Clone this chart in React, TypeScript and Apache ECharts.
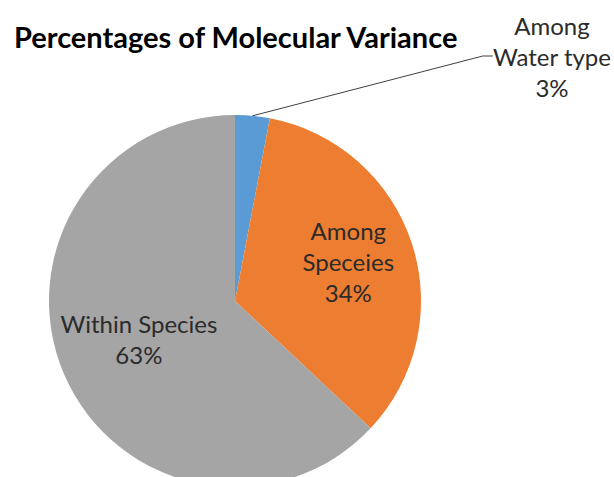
import React, { useEffect, useRef } from "react";
import * as echarts from "echarts";

const categories = ["Among\nWater type", "Among\nSpeceies", "Within Species"];
const values = [3, 34, 63];
const colors = ["#5B9BD5", "#ED7D31", "#A5A5A5"];
const titleText = "Percentages of Molecular Variance";

export default function App() {
  const ref = useRef<HTMLDivElement>(null);
  useEffect(() => {
    document.body.style.margin = "0";
    const chart = echarts.init(ref.current!, null, { renderer: "svg" });
    const font = "Lato, 'Noto Sans', sans-serif";
    chart.setOption({
      animation: false,
      backgroundColor: "#ffffff",
      title: {
        text: titleText,
        left: 9,
        top: 17,
        textStyle: { fontFamily: font, fontSize: 29, fontWeight: "bold", color: "#000000" },
      },
      series: [
        {
          type: "pie",
          center: [235, 301],
          radius: 186,
          startAngle: 90,
          clockwise: true,
          data: categories.map((c, i) => ({
            name: c,
            value: values[i],
            itemStyle: { color: colors[i] },
            label: i === 0 ? { position: "outside" } : { position: "inside" },
            labelLine: { show: i === 0 },
          })),
          label: {
            show: true,
            fontFamily: font,
            fontSize: 24,
            lineHeight: 31,
            color: "#2b2b2b",
            align: "center",
            formatter: (p: any) => `${p.name}\n${Math.round(p.percent)}%`,
          },
          labelLine: {
            show: true,
            length: 20,
            length2: 10,
            lineStyle: { color: "#404040", width: 1 },
          },
          labelLayout: (p: any) => {
            if (p.dataIndex === 0) return { x: 552, y: 56, align: "center", verticalAlign: "middle" };
            if (p.dataIndex === 1) return { dx: 22, dy: -10 };
            return { dx: -8, dy: 0 };
          },
          emphasis: { disabled: true },
        },
      ],
    });
    return () => chart.dispose();
  }, []);
  return <div ref={ref} style={{ width: 614, height: 477 }} />;
}
